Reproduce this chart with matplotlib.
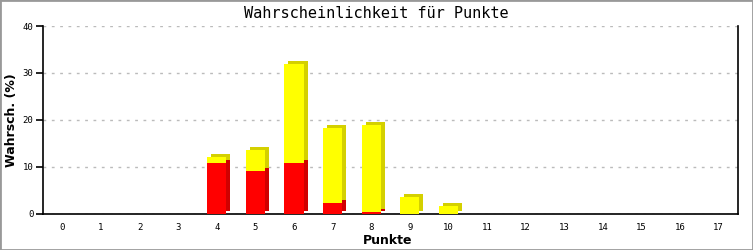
import matplotlib.pyplot as plt
import matplotlib.transforms as mtransforms
from matplotlib.patches import Rectangle

# Daten
punkte = list(range(18))
rot = [0, 0, 0, 0, 10.7, 9.0, 10.7, 2.2, 0.4, 0, 0, 0, 0, 0, 0, 0, 0, 0]
gelb = [0, 0, 0, 0, 1.3, 4.5, 21.3, 16.0, 18.4, 3.5, 1.6, 0, 0, 0, 0, 0, 0, 0]
gesamt = [r + g for r, g in zip(rot, gelb)]

fig = plt.figure(figsize=(7.53, 2.5), dpi=100)
fig.patches.append(Rectangle((0, 0), 1, 1, transform=fig.transFigure,
                             fill=False, edgecolor='#999999', linewidth=2))
ax = fig.add_axes([43/753, 36.5/250, 695/753, 187.5/250])

# 3D-Effekt: verschobene Kopie hinter den Balken
schatten = mtransforms.offset_copy(ax.transData, fig=fig, x=4, y=3, units='dots')
b = 0.5
for x, r, t in zip(punkte, rot, gesamt):
    if t > 0:
        ax.bar(x, t, width=b, color='#D4D000', transform=schatten, zorder=2)
    if r > 0:
        ax.bar(x, r, width=b, color='#D00000', transform=schatten, zorder=2.1)

ax.bar(punkte, gelb, bottom=rot, width=b, color='#FFFF00', zorder=3)
ax.bar(punkte, rot, width=b, color='#FF0000', zorder=3.1)

ax.set_xlim(-0.5, 17.5)
ax.set_ylim(0, 40)
ax.set_yticks([0, 10, 20, 30, 40])
ax.set_xticks(punkte)
ax.yaxis.grid(True, linestyle=(0, (2, 4)), color='#bbbbbb', linewidth=1)
ax.set_axisbelow(True)
ax.spines['top'].set_visible(False)
for s in ['left', 'bottom', 'right']:
    ax.spines[s].set_linewidth(1.2)
ax.tick_params(axis='x', length=0, pad=7, labelsize=6.5)
ax.tick_params(axis='y', length=5, width=1.2, pad=2, labelsize=6.5)
for lab in ax.get_xticklabels() + ax.get_yticklabels():
    lab.set_family('DejaVu Sans Mono')

fig.text(0.5, 1 - 13/250, 'Wahrscheinlichkeit für Punkte', ha='center', va='center',
         fontsize=11, family='DejaVu Sans Mono')
fig.text(388/753, 1 - 240/250, 'Punkte', ha='center', va='center',
         fontsize=9, fontweight='bold')
fig.text(12/753, 1 - 120/250, 'Wahrsch. (%)', ha='center', va='center',
         rotation=90, fontsize=9, fontweight='bold')

fig.savefig('out.png', dpi=100)
